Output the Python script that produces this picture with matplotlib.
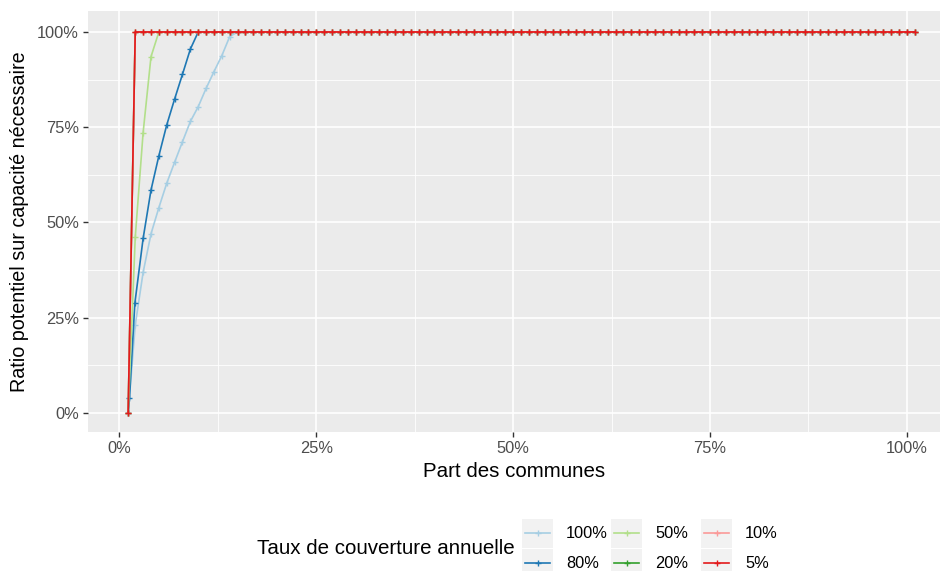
import matplotlib
matplotlib.use("Agg")
import matplotlib.pyplot as plt
from matplotlib.ticker import PercentFormatter, MultipleLocator
from matplotlib.patches import Rectangle
from matplotlib.lines import Line2D

plt.rcParams["font.family"] = ["Liberation Sans", "DejaVu Sans"]

# =====================
# Données (en %)
# =====================
labels = ["100%", "80%", "50%", "20%", "10%", "5%"]
colors = ["#A6CEE3", "#1F78B4", "#B2DF8A", "#33A02C", "#FB9A99", "#E31A1C"]

# partie croissante de chaque courbe (x = part des communes, y = ratio)
x_100 = [1.1, 2, 3, 4, 5, 6, 7, 8, 9, 10, 11, 12, 13, 14]
y_100 = [0, 23.1, 36.9, 47.0, 53.9, 60.3, 65.8, 71.2, 76.5, 80.4, 85.2, 89.6, 93.8, 98.8]

x_80 = [1.1, 1.27, 1.95, 3, 4, 5, 6, 7, 8, 9]
y_80 = [0, 3.9, 28.8, 45.8, 58.5, 67.5, 75.6, 82.4, 88.9, 95.5]

x_50 = [1.1, 2, 3, 4]
y_50 = [0, 46.1, 73.6, 93.5]

x_20 = [1.1]
y_20 = [0]

x_10 = [1.1]
y_10 = [0]

x_5 = [1.1]
y_5 = [0]

# plateau à 100% : une valeur par pourcent de communes jusqu'à 101%
plateau_start = [15, 10, 5, 2, 2, 2]
plateau_end = 101

heads = [(x_100, y_100), (x_80, y_80), (x_50, y_50),
         (x_20, y_20), (x_10, y_10), (x_5, y_5)]

# =====================
# Figure
# =====================
fig = plt.figure(figsize=(9.42, 5.71), dpi=100)
W, H = 942, 571
ax = fig.add_axes([88 / W, 1 - 432 / H, (940 - 88) / W, (432 - 11) / H])
ax.set_facecolor("#EBEBEB")

for (hx, hy), start, col in zip(heads, plateau_start, colors):
    xs = [v / 100 for v in hx] + [v / 100 for v in range(start, plateau_end + 1)]
    ys = [v / 100 for v in hy] + [1.0] * (plateau_end + 1 - start)
    ax.plot(xs, ys, color=col, lw=1.2, marker="+", ms=5, mew=1.0, zorder=3)

ax.set_xlim(-0.04, 1.042)
ax.set_ylim(-0.05, 1.055)

ax.xaxis.set_major_locator(MultipleLocator(0.25))
ax.yaxis.set_major_locator(MultipleLocator(0.25))
ax.xaxis.set_minor_locator(MultipleLocator(0.125))
ax.yaxis.set_minor_locator(MultipleLocator(0.125))
ax.xaxis.set_major_formatter(PercentFormatter(1.0, decimals=0))
ax.yaxis.set_major_formatter(PercentFormatter(1.0, decimals=0))

ax.grid(which="major", color="white", lw=1.2, zorder=0)
ax.grid(which="minor", color="white", lw=0.6, zorder=0)
ax.set_axisbelow(True)
for s in ax.spines.values():
    s.set_visible(False)

ax.tick_params(which="major", length=3.5, width=1, color="#333333",
               labelcolor="#4D4D4D", labelsize=11.8, pad=3)
ax.tick_params(which="minor", length=0)

ax.set_xlabel("Part des communes", fontsize=14.8, color="black", labelpad=4)
ax.set_ylabel("Ratio potentiel sur capacité nécessaire", fontsize=14.2,
              color="black", labelpad=6)

# =====================
# Légende (en bas)
# =====================
fig.text(257 / W, 1 - 548 / H, "Taux de couverture annuelle", fontsize=14.8,
         ha="left", va="center")

col_x = [522, 611, 701]
row_y = [533, 563]
key_w, key_h = 31, 29
for i, (lab, col) in enumerate(zip(labels, colors)):
    c, r = divmod(i, 2)
    kx = col_x[c]
    ky = row_y[r]
    fig.add_artist(Rectangle((kx / W, 1 - (ky + key_h / 2) / H), key_w / W, key_h / H,
                             transform=fig.transFigure, facecolor="#F2F2F2",
                             edgecolor="none"))
    fig.add_artist(Line2D([(kx + 3) / W, (kx + key_w - 3) / W],
                          [1 - ky / H, 1 - ky / H], transform=fig.transFigure,
                          color=col, lw=1.2))
    fig.add_artist(Line2D([(kx + key_w / 2) / W], [1 - ky / H],
                          transform=fig.transFigure, color=col, marker="+",
                          ms=5, mew=1.0, lw=0))
    fig.text((kx + key_w + 13) / W, 1 - ky / H, lab, fontsize=11.8, ha="left",
             va="center", color="black")

fig.savefig("out.png", dpi=100)
